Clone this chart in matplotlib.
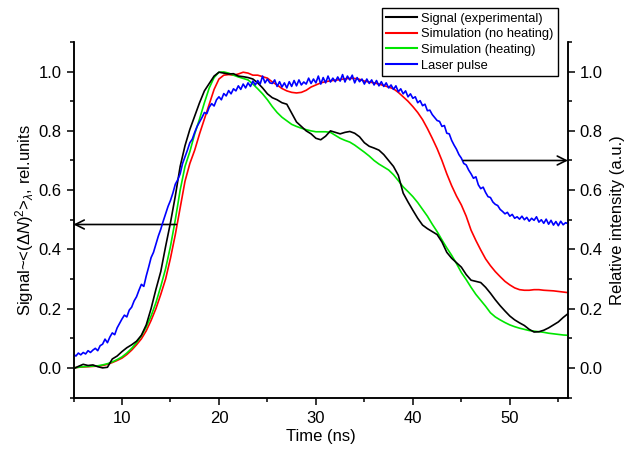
import numpy as np
import matplotlib
matplotlib.use("Agg")
import matplotlib.pyplot as plt
from matplotlib.lines import Line2D

plt.rcParams["font.family"] = ["Liberation Sans", "DejaVu Sans"]
plt.rcParams["mathtext.fontset"] = "custom"
plt.rcParams["mathtext.rm"] = "Liberation Sans"
plt.rcParams["mathtext.it"] = "Liberation Sans:italic"

# ---- data -------------------------------------------------------------
# smooth traces sampled every 0.5 ns
time_coarse = np.arange(5.0, 56.01, 0.5)

signal_exp = [
    -0.003, 0.005, 0.012, 0.008, 0.010, 0.004, 0.000, 0.002, 0.030, 0.040,
    0.055, 0.068, 0.078, 0.090, 0.110, 0.145, 0.200, 0.265, 0.325, 0.410,
    0.490, 0.580, 0.680, 0.750, 0.805, 0.850, 0.895, 0.935, 0.960, 0.985,
    0.998, 0.995, 0.992, 0.993, 0.985, 0.983, 0.980, 0.975, 0.962, 0.945,
    0.925, 0.912, 0.905, 0.895, 0.890, 0.860, 0.830, 0.815, 0.800, 0.790,
    0.775, 0.770, 0.782, 0.800, 0.795, 0.790, 0.795, 0.798, 0.792, 0.780,
    0.760, 0.748, 0.742, 0.735, 0.720, 0.700, 0.680, 0.650, 0.590, 0.560,
    0.532, 0.505, 0.482, 0.470, 0.460, 0.450, 0.425, 0.390, 0.370, 0.355,
    0.340, 0.315, 0.296, 0.292, 0.288, 0.272, 0.252, 0.230, 0.210, 0.192,
    0.175, 0.162, 0.152, 0.143, 0.130, 0.121, 0.122, 0.127, 0.135, 0.145,
    0.155, 0.170, 0.183,
]

sim_no_heating = [
    0.000, 0.002, 0.003, 0.004, 0.005, 0.006, 0.008, 0.012, 0.018, 0.025,
    0.033, 0.045, 0.060, 0.078, 0.098, 0.125, 0.160, 0.200, 0.248, 0.300,
    0.370, 0.450, 0.540, 0.630, 0.690, 0.735, 0.790, 0.840, 0.890, 0.940,
    0.975, 0.988, 0.990, 0.988, 0.992, 0.998, 0.995, 0.988, 0.988, 0.983,
    0.978, 0.965, 0.955, 0.943, 0.935, 0.930, 0.928, 0.930, 0.937, 0.948,
    0.955, 0.962, 0.966, 0.969, 0.971, 0.973, 0.976, 0.977, 0.977, 0.974,
    0.968, 0.965, 0.962, 0.958, 0.953, 0.948, 0.942, 0.930, 0.915, 0.900,
    0.882, 0.862, 0.838, 0.808, 0.775, 0.740, 0.700, 0.655, 0.615, 0.580,
    0.550, 0.512, 0.465, 0.430, 0.398, 0.368, 0.345, 0.325, 0.308, 0.292,
    0.280, 0.270, 0.264, 0.262, 0.262, 0.264, 0.264, 0.262, 0.261, 0.260,
    0.258, 0.256, 0.254,
]

sim_heating = [
    0.000, 0.002, 0.004, 0.005, 0.006, 0.007, 0.010, 0.014, 0.020, 0.028,
    0.037, 0.050, 0.066, 0.085, 0.108, 0.138, 0.175, 0.220, 0.275, 0.335,
    0.410, 0.500, 0.600, 0.680, 0.730, 0.790, 0.840, 0.895, 0.945, 0.980,
    0.998, 0.999, 0.995, 0.988, 0.982, 0.977, 0.972, 0.958, 0.942, 0.925,
    0.905, 0.882, 0.862, 0.846, 0.834, 0.822, 0.815, 0.809, 0.804, 0.800,
    0.797, 0.797, 0.797, 0.795, 0.785, 0.775, 0.768, 0.762, 0.752, 0.740,
    0.728, 0.715, 0.700, 0.688, 0.678, 0.668, 0.652, 0.632, 0.611, 0.595,
    0.578, 0.558, 0.535, 0.512, 0.485, 0.460, 0.432, 0.405, 0.380, 0.352,
    0.322, 0.298, 0.272, 0.248, 0.228, 0.208, 0.186, 0.172, 0.162, 0.153,
    0.145, 0.139, 0.134, 0.130, 0.126, 0.124, 0.122, 0.120, 0.117, 0.115,
    0.113, 0.111, 0.110,
]

# laser pulse, sampled every 0.25 ns
time_fine = np.arange(5.0, 56.01, 0.25)
laser_pulse = [
    0.046, 0.040, 0.050, 0.044, 0.052, 0.047, 0.058, 0.052,
    0.060, 0.066, 0.058, 0.075, 0.080, 0.097, 0.085, 0.104,
    0.118, 0.112, 0.135, 0.150, 0.165, 0.178, 0.172, 0.195,
    0.205, 0.226, 0.240, 0.262, 0.282, 0.275, 0.310, 0.340,
    0.372, 0.390, 0.418, 0.445, 0.468, 0.495, 0.520, 0.545,
    0.565, 0.590, 0.620, 0.635, 0.655, 0.690, 0.712, 0.735,
    0.760, 0.772, 0.795, 0.815, 0.830, 0.845, 0.862, 0.858,
    0.880, 0.892, 0.884, 0.905, 0.915, 0.905, 0.926, 0.918,
    0.936, 0.925, 0.942, 0.935, 0.952, 0.940, 0.958, 0.945,
    0.962, 0.950, 0.968, 0.955, 0.970, 0.958, 0.985, 0.962,
    0.975, 0.962, 0.960, 0.972, 0.950, 0.966, 0.948, 0.962,
    0.945, 0.966, 0.950, 0.970, 0.952, 0.972, 0.955, 0.965,
    0.958, 0.978, 0.960, 0.975, 0.962, 0.985, 0.958, 0.980,
    0.962, 0.985, 0.965, 0.978, 0.966, 0.982, 0.968, 0.990,
    0.965, 0.985, 0.972, 0.988, 0.962, 0.980, 0.966, 0.975,
    0.958, 0.975, 0.960, 0.972, 0.955, 0.970, 0.952, 0.966,
    0.950, 0.962, 0.945, 0.955, 0.940, 0.952, 0.932, 0.942,
    0.925, 0.935, 0.915, 0.925, 0.910, 0.915, 0.895, 0.902,
    0.885, 0.890, 0.868, 0.870, 0.855, 0.845, 0.835, 0.832,
    0.815, 0.818, 0.792, 0.790, 0.768, 0.752, 0.738, 0.720,
    0.708, 0.690, 0.685, 0.668, 0.655, 0.640, 0.645, 0.618,
    0.605, 0.610, 0.592, 0.578, 0.575, 0.560, 0.552, 0.548,
    0.535, 0.528, 0.520, 0.525, 0.512, 0.518, 0.505, 0.510,
    0.502, 0.512, 0.500, 0.508, 0.495, 0.505, 0.498, 0.510,
    0.492, 0.500, 0.488, 0.502, 0.485, 0.498, 0.482, 0.494,
    0.480, 0.495, 0.483, 0.490, 0.487,
]

series_labels = ["Signal (experimental)", "Simulation (no heating)",
                 "Simulation (heating)", "Laser pulse"]
series_colors = ["#000000", "#ff0000", "#00e600", "#0000ff"]

x_ticks = [10, 20, 30, 40, 50]
y_ticks = [0.0, 0.2, 0.4, 0.6, 0.8, 1.0]

# pointer arrows: (start x, end x, y)
left_arrow = (15.6, 5.0, 0.484)
right_arrow = (45.2, 56.0, 0.700)

# ---- figure -------------------------------------------------------------
fig = plt.figure(figsize=(6.27, 4.5), dpi=100)
ax = fig.add_axes([73.5 / 627, 1 - 397.5 / 450, (568 - 73.5) / 627, (397.5 - 42) / 450])
ax2 = ax.twinx()

lw = 1.2
ax.plot(time_coarse, signal_exp, color=series_colors[0], lw=lw, zorder=4)
ax.plot(time_coarse, sim_no_heating, color=series_colors[1], lw=lw, zorder=2)
ax.plot(time_coarse, sim_heating, color=series_colors[2], lw=lw, zorder=3)
ax2.plot(time_fine, laser_pulse, color=series_colors[3], lw=lw)

ax.set_xlim(5, 56)
ax.set_ylim(-0.1, 1.1)
ax2.set_ylim(-0.1, 1.1)

for a in (ax, ax2):
    a.spines["top"].set_visible(False)
    for s in a.spines.values():
        s.set_linewidth(1.1)
    a.tick_params(which="major", direction="out", length=5, width=1.1, labelsize=12)
    a.tick_params(which="minor", direction="out", length=3, width=1.1)

ax.set_xticks(x_ticks)
ax.set_xticks(np.arange(5, 56.1, 5), minor=True)
ax.set_yticks(y_ticks)
ax.set_yticks(np.arange(-0.1, 1.11, 0.1), minor=True)
ax2.set_yticks(y_ticks)
ax2.set_yticks(np.arange(-0.1, 1.11, 0.1), minor=True)
ax.set_yticklabels([f"{v:.1f}" for v in y_ticks])
ax2.set_yticklabels([f"{v:.1f}" for v in y_ticks])
ax.tick_params(axis="x", pad=5)

ax.set_xlabel("Time (ns)", fontsize=12, labelpad=2)
ax.set_ylabel(r"Signal~<($\Delta\mathit{N}$)$^{2}$>$_{\lambda}$, rel.units", fontsize=12, labelpad=2)
ax2.set_ylabel("Relative intensity (a.u.)", fontsize=12, labelpad=5)

arrow_props = dict(arrowstyle="->", lw=1.2, color="black", mutation_scale=16,
                   shrinkA=0, shrinkB=0)
ax.annotate("", xy=(left_arrow[1], left_arrow[2]), xytext=(left_arrow[0], left_arrow[2]),
            arrowprops=arrow_props, annotation_clip=False)
ax2.annotate("", xy=(right_arrow[1], right_arrow[2]), xytext=(right_arrow[0], right_arrow[2]),
             arrowprops=arrow_props, annotation_clip=False)

handles = [Line2D([], [], color=c, lw=1.5) for c in series_colors]
leg = fig.legend(handles, series_labels, loc="upper right",
                 bbox_to_anchor=(558 / 627, 1 - 8 / 450), fontsize=9.3,
                 frameon=True, fancybox=False, framealpha=1, edgecolor="black",
                 handlelength=2.4, handletextpad=0.3, labelspacing=0.28,
                 borderpad=0.35, borderaxespad=0)
leg.get_frame().set_linewidth(1.0)

fig.savefig("out.png", dpi=100)
